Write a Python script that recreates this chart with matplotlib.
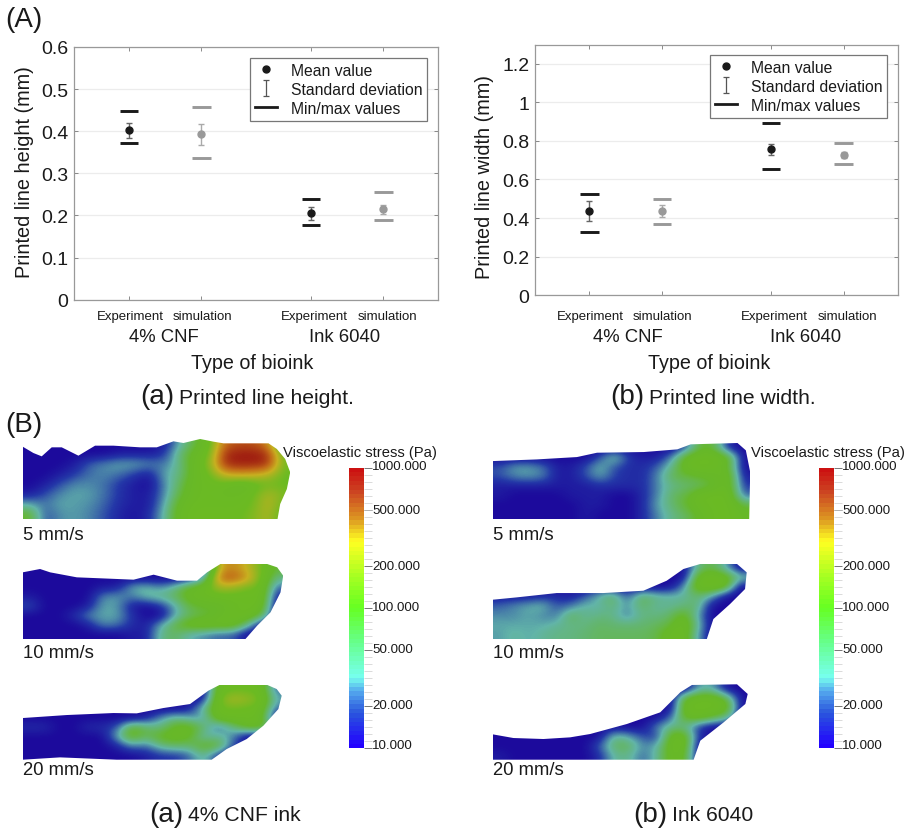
import numpy as np
import matplotlib
matplotlib.use("Agg")
import matplotlib.pyplot as plt
from matplotlib.colors import LinearSegmentedColormap, LogNorm
from matplotlib.lines import Line2D
from matplotlib.patches import Polygon
from matplotlib.path import Path
from matplotlib.cm import ScalarMappable
from matplotlib.ticker import FixedLocator, NullFormatter

plt.rcParams['font.family'] = ['Liberation Sans', 'DejaVu Sans']

W, H = 907, 829

# printed line height (mm): exp 4% CNF, sim 4% CNF, exp 6040, sim 6040
height_mean = [0.403, 0.394, 0.206, 0.216]
height_sd_lo = [0.385, 0.368, 0.190, 0.204]
height_sd_hi = [0.420, 0.418, 0.221, 0.224]
height_min = [0.371, 0.337, 0.178, 0.189]
height_max = [0.449, 0.458, 0.240, 0.255]

# printed line width (mm)
width_mean = [0.438, 0.438, 0.759, 0.726]
width_sd_lo = [0.383, 0.403, 0.729, 0.709]
width_sd_hi = [0.490, 0.469, 0.784, 0.743]
width_min = [0.326, 0.369, 0.655, 0.681]
width_max = [0.526, 0.497, 0.893, 0.791]

group_x = [0.75, 1.75, 3.25, 4.25]
group_col = ['#1a1a1a', '#999999', '#1a1a1a', '#999999']

height_ticks = [0, 0.1, 0.2, 0.3, 0.4, 0.5, 0.6]
height_tick_labels = ['0', '0.1', '0.2', '0.3', '0.4', '0.5', '0.6']
width_ticks = [0, 0.2, 0.4, 0.6, 0.8, 1.0, 1.2]
width_tick_labels = ['0', '0.2', '0.4', '0.6', '0.8', '1', '1.2']

cbar_ticks = [10, 20, 50, 100, 200, 500, 1000]

# stress fields (Pa), coarse grid, rows top to bottom
cnf_5 = [
    [10, 10, 10, 10, 10, 10, 10, 10, 10, 12, 30, 60, 100, 500, 600, 600, 400, 50],
    [10, 10, 10, 10, 10, 10, 12, 12, 12, 15, 45, 80, 120, 800, 950, 950, 800, 120],
    [10, 10, 10, 12, 20, 25, 30, 30, 25, 22, 40, 90, 150, 800, 900, 900, 800, 130],
    [10, 10, 12, 16, 22, 25, 22, 16, 12, 30, 40, 90, 120, 300, 350, 320, 250, 120],
    [10, 12, 18, 25, 25, 22, 15, 12, 10, 25, 50, 100, 110, 110, 80, 100, 130, 120],
    [12, 18, 25, 30, 28, 22, 15, 12, 12, 25, 60, 100, 110, 100, 100, 120, 220, 140],
    [30, 22, 30, 28, 26, 20, 14, 12, 12, 30, 80, 110, 110, 110, 110, 130, 250, 120],
    [70, 18, 26, 28, 24, 18, 13, 11, 14, 35, 90, 120, 120, 120, 120, 150, 220, 100],
]
cnf_10 = [
    [10, 10, 10, 10, 10, 10, 10, 10, 10, 10, 10, 10, 10, 300, 400, 250, 130, 60],
    [10, 10, 10, 10, 10, 10, 10, 10, 10, 10, 10, 12, 30, 500, 600, 350, 120, 40],
    [10, 10, 10, 10, 10, 12, 12, 30, 35, 25, 40, 80, 100, 200, 180, 130, 120, 20],
    [12, 10, 10, 10, 10, 25, 28, 22, 35, 40, 50, 90, 100, 110, 110, 110, 120, 12],
    [18, 10, 10, 10, 12, 30, 28, 12, 10, 14, 30, 60, 70, 70, 100, 110, 100, 10],
    [10, 10, 10, 14, 25, 30, 30, 15, 10, 10, 30, 50, 60, 80, 100, 110, 60, 10],
    [10, 10, 10, 10, 12, 25, 22, 14, 12, 30, 60, 100, 110, 100, 100, 40, 10, 10],
    [10, 10, 10, 10, 10, 10, 10, 12, 12, 40, 50, 30, 25, 20, 20, 10, 10, 10],
]
cnf_20 = [
    [10, 10, 10, 10, 10, 10, 10, 10, 10, 10, 10, 10, 10, 100, 120, 120, 110, 20],
    [10, 10, 10, 10, 10, 10, 10, 10, 10, 10, 10, 10, 12, 130, 220, 180, 140, 30],
    [10, 10, 10, 10, 10, 10, 10, 10, 10, 10, 10, 12, 40, 120, 130, 120, 110, 20],
    [10, 10, 10, 10, 10, 10, 10, 10, 12, 25, 40, 30, 25, 110, 110, 110, 100, 10],
    [14, 14, 10, 10, 14, 14, 18, 80, 50, 40, 80, 90, 50, 18, 40, 80, 90, 30],
    [10, 10, 10, 10, 10, 10, 30, 90, 50, 80, 90, 80, 30, 40, 25, 10, 10, 10],
    [10, 10, 10, 10, 10, 10, 12, 25, 20, 40, 50, 45, 80, 70, 20, 10, 10, 10],
    [10, 10, 10, 10, 10, 10, 10, 10, 12, 15, 15, 20, 40, 15, 10, 10, 10, 10],
]
ink_5 = [
    [10, 10, 10, 10, 10, 10, 10, 10, 10, 10, 10, 10, 10, 20, 70, 60, 12, 10],
    [10, 10, 10, 10, 10, 10, 10, 18, 45, 15, 12, 12, 25, 90, 110, 110, 80, 10],
    [18, 28, 28, 22, 12, 12, 18, 35, 18, 14, 14, 20, 40, 100, 110, 100, 70, 10],
    [18, 25, 28, 24, 12, 12, 18, 30, 16, 14, 14, 25, 55, 60, 70, 80, 100, 12],
    [12, 12, 12, 12, 12, 12, 12, 14, 14, 14, 14, 25, 40, 45, 50, 70, 100, 15],
    [12, 10, 10, 10, 10, 12, 12, 12, 10, 10, 14, 25, 50, 60, 110, 110, 110, 20],
    [10, 10, 10, 10, 10, 10, 12, 12, 10, 10, 14, 30, 45, 70, 100, 110, 110, 60],
    [10, 10, 10, 10, 10, 10, 12, 10, 10, 10, 14, 25, 40, 50, 80, 110, 110, 80],
]
ink_10 = [
    [10, 10, 10, 10, 10, 10, 10, 10, 10, 10, 10, 10, 10, 10, 40, 60, 30, 10],
    [10, 10, 10, 10, 10, 10, 10, 10, 10, 10, 10, 10, 10, 10, 90, 110, 100, 40],
    [10, 10, 10, 10, 10, 10, 10, 10, 10, 10, 10, 10, 10, 25, 110, 110, 100, 10],
    [12, 12, 12, 14, 14, 12, 18, 35, 55, 18, 55, 40, 35, 35, 45, 30, 10, 10],
    [20, 25, 30, 35, 18, 22, 35, 30, 45, 25, 50, 35, 35, 40, 50, 10, 10, 10],
    [25, 25, 30, 25, 22, 55, 35, 40, 40, 22, 40, 40, 45, 90, 30, 10, 10, 10],
    [30, 30, 30, 30, 35, 40, 40, 50, 45, 45, 45, 50, 60, 110, 40, 10, 10, 10],
    [28, 35, 30, 35, 40, 40, 45, 50, 50, 50, 50, 55, 90, 110, 30, 10, 10, 10],
]
ink_20 = [
    [10, 10, 10, 10, 10, 10, 10, 10, 10, 10, 10, 10, 10, 10, 30, 30, 10, 10],
    [10, 10, 10, 10, 10, 10, 10, 10, 10, 10, 10, 10, 10, 80, 110, 110, 60, 10],
    [10, 10, 10, 10, 10, 10, 10, 10, 10, 10, 10, 10, 10, 110, 110, 110, 100, 10],
    [10, 10, 10, 10, 10, 10, 10, 10, 10, 10, 10, 10, 20, 80, 100, 70, 40, 10],
    [10, 10, 10, 10, 10, 10, 10, 10, 10, 10, 10, 25, 40, 40, 15, 10, 10, 10],
    [10, 10, 10, 10, 10, 10, 10, 10, 40, 30, 18, 15, 90, 100, 14, 10, 10, 10],
    [10, 10, 10, 10, 10, 10, 10, 20, 50, 55, 25, 30, 100, 100, 10, 10, 10, 10],
    [12, 10, 10, 10, 10, 10, 10, 14, 35, 40, 20, 35, 90, 80, 10, 10, 10, 10],
]

# nozzle outlines, (x, y) measured in each map's own frame
cnf_5_outline = [(0, 23), (32, 42), (57, 52), (87, 25), (117, 25), (167, 50), (217, 20), (272, 20), (352, 25),
                 (402, 25), (452, 7), (482, 12), (532, 0), (572, 8), (602, 13), (737, 13), (762, 30), (787, 60),
                 (802, 100), (792, 150), (772, 195), (764, 240), (0, 240)]
cnf_10_outline = [(0, 25), (52, 15), (82, 25), (162, 40), (332, 47), (392, 32), (462, 50), (522, 50), (552, 25),
                  (592, 0), (732, 0), (762, 10), (780, 35), (772, 85), (742, 145), (702, 185), (667, 225), (0, 225)]
cnf_20_outline = [(0, 100), (132, 91), (272, 85), (342, 86), (422, 70), (502, 58), (557, 18), (592, 0), (732, 0),
                  (762, 13), (777, 33), (767, 73), (722, 123), (672, 163), (612, 193), (567, 225), (282, 225),
                  (112, 218), (0, 225)]
ink_5_outline = [(0, 54), (132, 49), (252, 42), (312, 29), (452, 27), (552, 19), (592, 4), (732, 0), (757, 22),
                 (770, 87), (767, 227), (0, 227)]
ink_10_outline = [(0, 108), (72, 101), (192, 88), (332, 88), (452, 81), (522, 51), (572, 16), (622, 1), (732, 0),
                  (762, 26), (757, 76), (712, 121), (662, 166), (642, 227), (0, 227)]
ink_20_outline = [(0, 150), (62, 161), (152, 164), (232, 159), (292, 149), (402, 119), (502, 84), (562, 24),
                  (597, 2), (732, 0), (764, 29), (757, 59), (692, 114), (622, 169), (602, 226), (0, 226)]

map_fields = [cnf_5, cnf_10, cnf_20, ink_5, ink_10, ink_20]
map_outlines = [cnf_5_outline, cnf_10_outline, cnf_20_outline, ink_5_outline, ink_10_outline, ink_20_outline]
# left, top, width, height in px
map_rects = [(22.7, 440, 267.5, 80), (22.7, 565, 260.5, 75), (22.7, 685.7, 259, 75),
             (492.7, 444, 257.5, 76), (492.7, 564.7, 254, 75.7), (492.7, 685.3, 255, 75.4)]
map_labels = ['5 mm/s', '10 mm/s', '20 mm/s', '5 mm/s', '10 mm/s', '20 mm/s']
label_y = [535, 653, 771, 535, 653, 771]

bar_colors = [(0.0, '#2200ff'), (0.12, '#2a55dd'), (0.2, '#55aaee'), (0.25, '#77ffee'), (0.38, '#66ff88'),
              (0.5, '#66ff22'), (0.62, '#aaff22'), (0.74, '#ffff22'), (0.82, '#dd9922'), (0.92, '#cc4422'),
              (1.0, '#cc1111')]
field_colors = [(0.0, '#1c0a9c'), (0.1, '#2438a8'), (0.25, '#62b4a8'), (0.42, '#66b82a'), (0.55, '#6cbb22'),
                (0.72, '#c8b020'), (0.85, '#c26a18'), (1.0, '#9c1410')]
bar_cmap = LinearSegmentedColormap.from_list('bar', bar_colors, N=64)
field_cmap = LinearSegmentedColormap.from_list('field', field_colors)

fig = plt.figure(figsize=(W / 100, H / 100), dpi=100)


def add_axes_px(left, top, width, height):
    return fig.add_axes([left / W, 1 - (top + height) / H, width / W, height / H])


def put(x, y, s, size, ha='center', **kw):
    fig.text(x / W, 1 - y / H, s, fontsize=size, ha=ha, va='center', color='#1a1a1a', **kw)


# I-beam glyph for the legend entry
sd_marker = Path([(-0.35, -1), (0.35, -1), (0, -1), (0, 1), (-0.35, 1), (0.35, 1)],
                 [Path.MOVETO, Path.LINETO, Path.MOVETO, Path.LINETO, Path.MOVETO, Path.LINETO])


def scatter_panel(rect, mean, sd_lo, sd_hi, vmin, vmax, ticks, tick_labels, ylim, legend_box):
    ax = add_axes_px(*rect)
    ax.set_xlim(0, 5)
    ax.set_ylim(*ylim)
    ax.set_yticks(ticks)
    ax.set_yticklabels(tick_labels, fontsize=14, color='#1a1a1a')
    ax.set_xticks(group_x)
    ax.set_xticklabels([])
    ax.tick_params(direction='in', length=3, width=0.6, color='#777777', top=True, right=True, pad=4)
    ax.grid(axis='y', color='#ececec', lw=0.9)
    ax.set_axisbelow(True)
    for s in ax.spines.values():
        s.set_color('#999999')
        s.set_linewidth(0.9)
    for i, x in enumerate(group_x):
        c = group_col[i]
        ax.errorbar(x, mean[i], yerr=[[mean[i] - sd_lo[i]], [sd_hi[i] - mean[i]]], fmt='none',
                    ecolor='#666666' if c == '#1a1a1a' else '#aaaaaa', elinewidth=1, capsize=2.2, capthick=1)
        ax.plot(x, mean[i], 'o', color=c, ms=5)
        ax.plot([x - 0.125, x + 0.125], [vmin[i], vmin[i]], color=c, lw=2.1, solid_capstyle='butt')
        ax.plot([x - 0.125, x + 0.125], [vmax[i], vmax[i]], color=c, lw=2.1, solid_capstyle='butt')

    handles = [Line2D([], [], ls='', marker='o', color='#1a1a1a', ms=5),
               Line2D([], [], ls='', marker=sd_marker, mfc='none', mec='#555555', ms=11, mew=0.9),
               Line2D([], [], color='#1a1a1a', lw=2)]
    bx, by = legend_box
    leg = ax.legend(handles, ['Mean value', 'Standard deviation', 'Min/max values'],
                    loc='upper right', fontsize=11.3, fancybox=False, framealpha=1, edgecolor='#777777',
                    bbox_to_anchor=((bx - rect[0]) / rect[2], 1 - (by - rect[1]) / rect[3]), borderaxespad=0,
                    labelspacing=0.26, handlelength=1.45, handletextpad=0.85, borderpad=0.3, labelcolor='#1a1a1a')
    leg.get_frame().set_linewidth(0.9)
    return ax


scatter_panel((74, 48, 364, 252.7), height_mean, height_sd_lo, height_sd_hi, height_min, height_max,
              height_ticks, height_tick_labels, (0, 0.6), (427, 59))
scatter_panel((535, 46, 363, 250.3), width_mean, width_sd_lo, width_sd_hi, width_min, width_max,
              width_ticks, width_tick_labels, (0, 1.296), (887, 56))

# axis texts
for x, s in [(130, 'Experiment'), (202, 'simulation'), (314, 'Experiment'), (387, 'simulation'),
             (590, 'Experiment'), (662, 'simulation'), (774, 'Experiment'), (847, 'simulation')]:
    put(x, 317, s, 9.5)
for x, s in [(164, '4% CNF'), (345, 'Ink 6040'), (628, '4% CNF'), (806, 'Ink 6040')]:
    put(x, 338, s, 13.3)
put(252, 364, 'Type of bioink', 14.2)
put(709, 364, 'Type of bioink', 14.2)
put(25, 172, 'Printed line height (mm)', 14.3, rotation=90)
put(484, 177, 'Printed line width (mm)', 14.3, rotation=90)

put(5, 20, '(A)', 20, ha='left')
put(5, 425, '(B)', 20, ha='left')

# captions
for x, y, tag, s in [(140, 397, '(a)', 'Printed line height.'), (610, 397, '(b)', 'Printed line width.'),
                     (149, 815, '(a)', '4% CNF ink'), (633, 815, '(b)', 'Ink 6040')]:
    put(x, y, tag, 20, ha='left')
    put(x + 39, y + 1, s, 15.2, ha='left')

# stress maps
for field, outline, rect in zip(map_fields, map_outlines, map_rects):
    ax = add_axes_px(*rect)
    xs = [p[0] for p in outline]
    ys = [p[1] for p in outline]
    x1, y1 = max(xs), max(ys)
    im = ax.imshow(np.log10(np.array(field, dtype=float)), extent=(0, x1, y1, 0), aspect='auto',
                   cmap=field_cmap, vmin=1, vmax=3, interpolation='bicubic')
    clip = Polygon(outline, closed=True, transform=ax.transData, fc='none', ec='none')
    ax.add_patch(clip)
    im.set_clip_path(clip)
    ax.set_xlim(0, x1)
    ax.set_ylim(y1, 0)
    ax.axis('off')

for (x, y), s in zip([(r[0], yy) for r, yy in zip(map_rects, label_y)], map_labels):
    put(x, y, s, 13.3, ha='left')

# colour bars
minor = [v for v in np.geomspace(10, 1000, 41) if min(abs(v - t) for t in cbar_ticks) > 0.5]
label_shift = [3, 1, 1, 1, 0, 0, 2]
for left, title_x in [(348.7, 360), (818.7, 828)]:
    cax = add_axes_px(left, 468.7, 15.5, 280.6)
    sm = ScalarMappable(norm=LogNorm(10, 1000), cmap=bar_cmap)
    cb = fig.colorbar(sm, cax=cax)
    cb.outline.set_visible(False)
    cax.yaxis.set_major_locator(FixedLocator(cbar_ticks))
    cax.yaxis.set_major_formatter(NullFormatter())
    cax.yaxis.set_minor_locator(FixedLocator(minor))
    cax.yaxis.set_minor_formatter(NullFormatter())
    cax.tick_params(which='major', length=5.5, width=0.7, color='#777777', direction='out')
    cax.tick_params(which='minor', length=5.5, width=0.5, color='#cccccc')
    for t, dy in zip(cbar_ticks, label_shift):
        cax.annotate('%.3f' % t, xy=(1, t), xycoords=('axes fraction', 'data'), xytext=(8, dy),
                     textcoords='offset pixels', fontsize=9.6, color='#1a1a1a', ha='left', va='center',
                     annotation_clip=False)
    put(title_x, 453, 'Viscoelastic stress (Pa)', 10.6)

fig.savefig('out.png', dpi=100)
